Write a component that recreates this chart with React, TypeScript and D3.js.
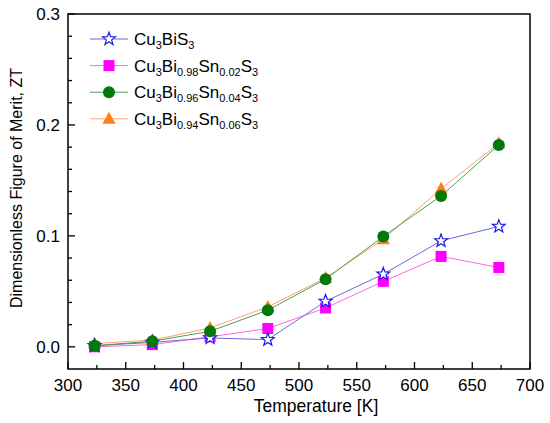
import React from 'react';
import * as d3 from 'd3';

const temperatures = [323, 373, 423, 473, 523, 573, 623, 673];
const ztCu3BiS3 = [0.001, 0.004, 0.008, 0.0065, 0.041, 0.0655, 0.0955, 0.1085];
const ztSn002 = [0.0, 0.002, 0.009, 0.0165, 0.035, 0.059, 0.0815, 0.0715];
const ztSn004 = [0.001, 0.005, 0.014, 0.033, 0.061, 0.0995, 0.136, 0.182];
const ztSn006 = [0.003, 0.006, 0.017, 0.036, 0.062, 0.097, 0.1425, 0.1835];

const xTicks = [300, 350, 400, 450, 500, 550, 600, 650, 700];
const yTicks = [0.0, 0.1, 0.2, 0.3];

type Series = {
  key: string;
  values: number[];
  marker: 'star' | 'square' | 'circle' | 'triangle';
  fill: string;
  stroke: string;
  line: string;
  label: [string, string][]; // [text, subscript]
};

const series: Series[] = [
  { key: 'bis', values: ztCu3BiS3, marker: 'star', fill: 'white', stroke: '#1a1aee', line: '#6a6ae0',
    label: [['Cu', '3'], ['BiS', '3']] },
  { key: 'sn2', values: ztSn002, marker: 'square', fill: '#ff00ff', stroke: '#ff00ff', line: '#ff66dd',
    label: [['Cu', '3'], ['Bi', '0.98'], ['Sn', '0.02'], ['S', '3']] },
  { key: 'sn4', values: ztSn004, marker: 'circle', fill: '#007a0a', stroke: '#007a0a', line: '#4aa050',
    label: [['Cu', '3'], ['Bi', '0.96'], ['Sn', '0.04'], ['S', '3']] },
  { key: 'sn6', values: ztSn006, marker: 'triangle', fill: '#ff7f10', stroke: '#ff7f10', line: '#ffa070',
    label: [['Cu', '3'], ['Bi', '0.94'], ['Sn', '0.06'], ['S', '3']] },
];

const drawOrder = ['sn6', 'sn2', 'bis', 'sn4'];

const starPath = (() => {
  const pts: [number, number][] = [];
  for (let i = 0; i < 10; i++) {
    const r = i % 2 === 0 ? 6.8 : 2.8;
    const a = -Math.PI / 2 + (i * Math.PI) / 5;
    pts.push([r * Math.cos(a), r * Math.sin(a)]);
  }
  return 'M' + pts.map(p => p.map(v => v.toFixed(2)).join(',')).join('L') + 'Z';
})();

const Marker: React.FC<{ s: Series; x: number; y: number }> = ({ s, x, y }) => {
  const t = `translate(${x},${y})`;
  if (s.marker === 'star')
    return <path d={starPath} transform={t} fill={s.fill} stroke={s.stroke} strokeWidth={1.2} />;
  if (s.marker === 'square')
    return <rect x={x - 5.5} y={y - 5.5} width={11} height={11} fill={s.fill} />;
  if (s.marker === 'circle')
    return <circle cx={x} cy={y} r={6} fill={s.fill} />;
  return <path d="M0,-7L6.5,5L-6.5,5Z" transform={t} fill={s.fill} />;
};

export default function App() {
  const width = 550;
  const height = 423;
  const left = 68, right = 530, top = 14, bottom = 369;

  const x = d3.scaleLinear().domain([300, 700]).range([left, right]);
  const y = d3.scaleLinear().domain([-0.02, 0.3]).range([bottom, top]);

  const line = d3.line<number>()
    .x((_, i) => x(temperatures[i]))
    .y(d => y(d));

  const xMinor = d3.range(300, 701, 25).filter(v => v % 50 !== 0);
  const yMinor = d3.range(0, 0.3001, 0.02).filter(v => Math.abs(v * 10 - Math.round(v * 10)) > 1e-6);

  const font = '"Liberation Sans", Arial, Helvetica, sans-serif';
  const fs = 17;
  const ordered = drawOrder.map(k => series.find(s => s.key === k)!);

  return (
    <svg width={width} height={height} style={{ position: 'absolute', left: 0, top: 0 }} fontFamily={font}>
      <rect width={width} height={height} fill="white" />
      {/* lines */}
      {ordered.map(s => (
        <path key={s.key} d={line(s.values) || ''} fill="none" stroke={s.line} strokeWidth={1} />
      ))}
      {/* markers */}
      {ordered.map(s => (
        <g key={s.key + '-m'}>
          {s.values.map((v, i) => <Marker key={i} s={s} x={x(temperatures[i])} y={y(v)} />)}
        </g>
      ))}
      {/* frame */}
      <rect x={left} y={top} width={right - left} height={bottom - top} fill="none" stroke="black" strokeWidth={1.5} />
      {/* x ticks */}
      {xTicks.map(t => (
        <g key={'xt' + t}>
          <line x1={x(t)} x2={x(t)} y1={bottom} y2={bottom - 7} stroke="black" strokeWidth={1.3} />
          <text x={x(t)} y={391} textAnchor="middle" fontSize={fs}>{t}</text>
        </g>
      ))}
      {xMinor.map(t => (
        <line key={'xm' + t} x1={x(t)} x2={x(t)} y1={bottom} y2={bottom - 4} stroke="black" strokeWidth={1.3} />
      ))}
      {/* y ticks */}
      {yTicks.map(t => (
        <g key={'yt' + t}>
          <line x1={left} x2={left + 7} y1={y(t)} y2={y(t)} stroke="black" strokeWidth={1.3} />
          <text x={60} y={y(t) + 6} textAnchor="end" fontSize={fs}>{t.toFixed(1)}</text>
        </g>
      ))}
      {yMinor.map(t => (
        <line key={'ym' + t} x1={left} x2={left + 4} y1={y(t)} y2={y(t)} stroke="black" strokeWidth={1.3} />
      ))}
      {/* axis titles */}
      <text x={316} y={412} textAnchor="middle" fontSize={17.5}>Temperature [K]</text>
      <text transform={`translate(22,188) rotate(-90)`} textAnchor="middle" fontSize={16}>
        Dimensionless Figure of Merit, ZT
      </text>
      {/* legend */}
      {series.map((s, i) => {
        const ly = 39 + i * 26.6;
        return (
          <g key={s.key + '-l'}>
            <line x1={90} x2={128} y1={ly} y2={ly} stroke={s.line} strokeWidth={1} />
            <Marker s={s} x={109} y={ly} />
            <text x={134} y={ly + 6} fontSize={fs}>
              {s.label.map(([txt, sub], j) => (
                <React.Fragment key={j}>
                  <tspan fontSize={fs} dy={j === 0 ? 0 : -4}>{txt}</tspan>
                  <tspan fontSize={11} dy={4}>{sub}</tspan>
                </React.Fragment>
              ))}
            </text>
          </g>
        );
      })}
    </svg>
  );
}
